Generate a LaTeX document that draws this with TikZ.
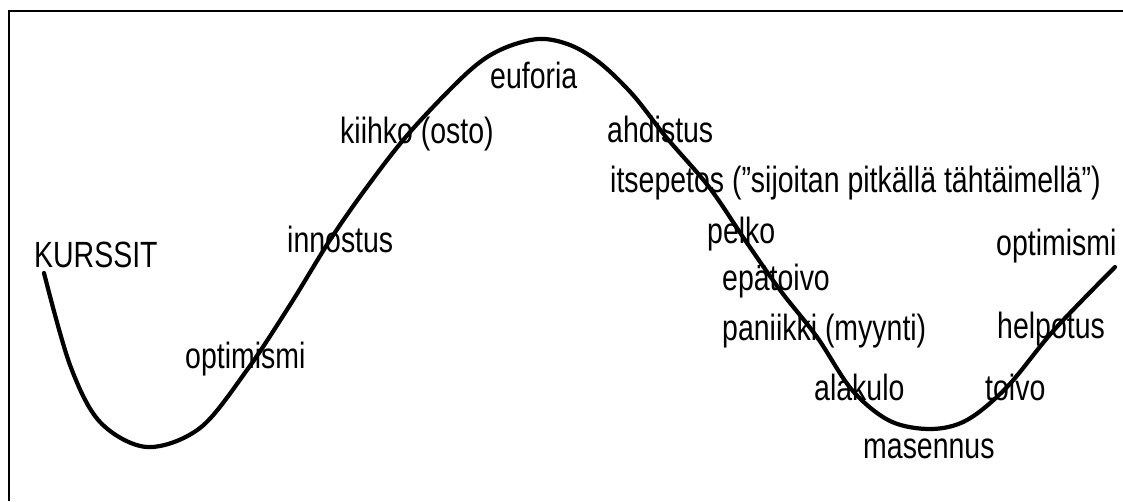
\documentclass[tikz,border=0pt]{standalone}
\usepackage{fontspec}
\setmainfont{Liberation Sans}[FakeStretch=0.78]
\begin{document}
\begin{tikzpicture}[x=1pt,y=-1pt,
  lbl/.style={anchor=base west, inner sep=0pt, font=\fontsize{36.5}{40}\selectfont},
  frameline/.style={line width=2.5pt},
  wave/.style={line width=4.2pt, line cap=round, line join=round}]
\useasboundingbox (0,0) rectangle (1123,501);
\fill[white] (0,0) rectangle (1123,501);
\draw[frameline] (9,501) -- (9,11) -- (1123,11);
\draw[wave] plot[smooth, tension=0.55] coordinates {
 (44,273) (70,365) (100,422) (147,447) (200,428) (247,370)
 (290,305) (330,240) (367,187) (410,132) (467,73) (500,50) (538,39)
 (570,45) (600,63) (633,95) (666,137) (709,187) (745,240) (780,290)
 (817,337) (852,390) (890,421) (931,429) (967,420) (1007,387)
 (1054,330) (1115,267)};
\node[lbl] (kurssit) at (34,267) {KURSSIT};
\node[lbl] (opt1) at (185,368) {optimismi};
\node[lbl] (innostus) at (287,252) {innostus};
\node[lbl] (kiihko) at (340,143) {kiihko (osto)};
\node[lbl] (euforia) at (490,88) {euforia};
\node[lbl] (ahdistus) at (607,142) {ahdistus};
\node[lbl] (itsepetos) at (610,192) {itsepetos (”sijoitan pitkällä tähtäimellä”)};
\node[lbl] (pelko) at (707,243) {pelko};
\node[lbl] (epatoivo) at (722,290) {epätoivo};
\node[lbl] (paniikki) at (722,340) {paniikki (myynti)};
\node[lbl] (alakulo) at (814,400) {alakulo};
\node[lbl] (toivo) at (985,400) {toivo};
\node[lbl] (masennus) at (863,458) {masennus};
\node[lbl] (helpotus) at (997,338) {helpotus};
\node[lbl] (opt2) at (996,255) {optimismi};
\end{tikzpicture}
\end{document}
